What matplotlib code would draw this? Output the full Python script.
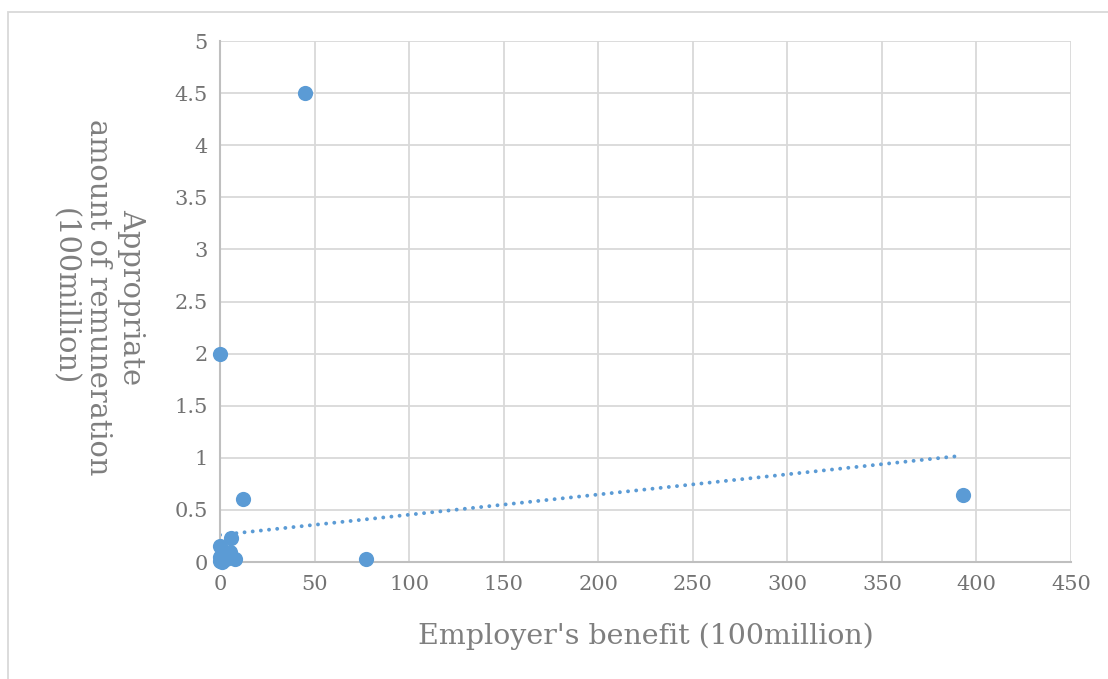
import matplotlib
matplotlib.use("Agg")
import matplotlib.pyplot as plt
from matplotlib.patches import Rectangle

# employer's benefit vs. appropriate remuneration (both in 100 million)
benefit = [45, 0, 12, 77, 393, 0, 0, 0, 1, 3, 5, 6, 8]
remuneration = [4.5, 2.0, 0.6, 0.03, 0.64, 0.15, 0.05, 0.01, 0.0, 0.03, 0.1, 0.23, 0.03]

# linear trendline endpoints
trend_x = [0, 392]
trend_y = [0.26, 1.02]

x_ticks = [0, 50, 100, 150, 200, 250, 300, 350, 400, 450]
y_ticks = [0, 0.5, 1, 1.5, 2, 2.5, 3, 3.5, 4, 4.5, 5]

blue = "#5B9BD5"
text_gray = "#7f7f7f"
plt.rcParams["font.family"] = ["DejaVu Serif"]

fig = plt.figure(figsize=(11.08, 6.79), dpi=100)
ax = fig.add_axes([0.1986, 0.1723, 0.768, 0.7673])

# chart area border
fig.patches.append(Rectangle((8 / 1108, -0.05), 1.2, 1 - 12 / 679 + 0.05,
                             transform=fig.transFigure, fill=False,
                             edgecolor="#d9d9d9", linewidth=1.3, clip_on=False))

ax.scatter(benefit, remuneration, s=120, color=blue, zorder=3, linewidths=0,
           clip_on=False)
ax.plot(trend_x, trend_y, color=blue, linewidth=2.8,
        linestyle=(0, (0.01, 2.1)), dash_capstyle="round", zorder=2)

ax.set_xlim(0, 450)
ax.set_ylim(0, 5)
ax.set_xticks(x_ticks)
ax.set_yticks(y_ticks)
ax.set_xticklabels([str(t) for t in x_ticks])
ax.set_yticklabels([f"{t:g}" for t in y_ticks])
ax.grid(True, color="#d9d9d9", linewidth=1.3)
ax.set_axisbelow(True)
for side in ["top", "right"]:
    ax.spines[side].set_visible(False)
for side in ["left", "bottom"]:
    ax.spines[side].set_color("#bfbfbf")
    ax.spines[side].set_linewidth(1.5)
ax.tick_params(length=0, labelsize=15, colors="#737373", pad=9)

fig.text(0.583, 0.063, "Employer's benefit (100million)", ha="center", va="center",
         fontsize=20.5, color=text_gray)
fig.text(0.088, 0.563, "Appropriate\namount of remuneration\n(100million)",
         ha="center", va="center", rotation=270, fontsize=20.8, color=text_gray,
         multialignment="center", linespacing=1.25)

fig.savefig("out.png", dpi=100)
